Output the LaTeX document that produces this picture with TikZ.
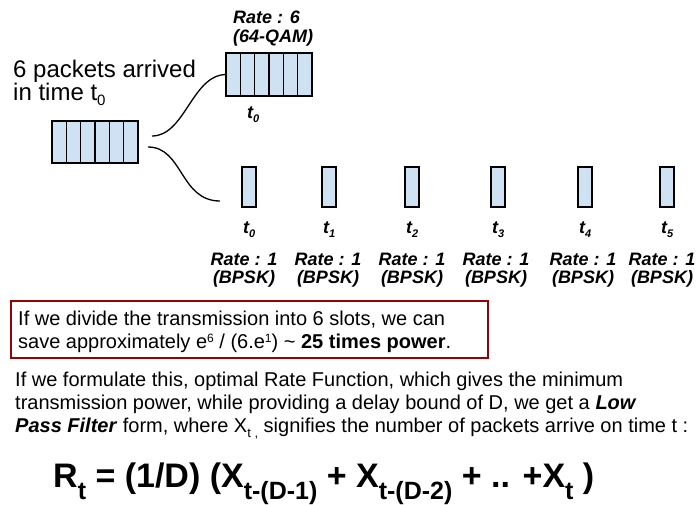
\documentclass[tikz,border=0pt]{standalone}
\usepackage{fontspec}
\usetikzlibrary{calc}
\setmainfont{Liberation Sans}
\definecolor{cellblue}{HTML}{CFE2F3}
\definecolor{boxred}{HTML}{990000}
\newcommand\lsub[1]{\raisebox{-4pt}{\fontsize{11}{11}\selectfont #1}}
\newcommand\fsub[1]{\raisebox{-12pt}{\fontsize{25}{25}\selectfont\bfseries #1}}
\newcommand\psub[1]{\raisebox{-5pt}{\fontsize{13}{13}\selectfont #1}}
\newcommand\psup[1]{\raisebox{6pt}{\fontsize{12}{12}\selectfont #1}}
\begin{document}
\begin{tikzpicture}[x=1pt,y=-1pt,
  pbox/.style={draw=black, line width=1.3pt, fill=cellblue, minimum width=86pt, minimum height=42pt, inner sep=0pt, outer sep=0pt},
  slot/.style={draw=black, line width=1.3pt, fill=cellblue, minimum width=14pt, minimum height=40pt, inner sep=0pt, outer sep=0pt},
  bi/.style={inner sep=0pt, font=\fontsize{18}{18}\selectfont\bfseries\itshape},
  big/.style={inner sep=0pt, anchor=base west, font=\fontsize{24}{24}\selectfont},
  para/.style={inner sep=0pt, anchor=base west, font=\fontsize{20}{20}\selectfont},
  curve/.style={line width=1.3pt},
  divider/.style={line width=1.3pt}
]
\useasboundingbox (0,0) rectangle (699,504);
% title text
\node[big] (t1) at (13,77) {6 packets arrived};
\node[big] (t2) at (13,100) {in time t\raisebox{-5pt}{\fontsize{15}{15}\selectfont 0}};
% left box
\node[pbox] (abox) at (95,142) {};
\foreach \i in {1,...,5} {
  \draw[divider] ($(abox.north west)!\i/6!(abox.north east)$) -- ($(abox.south west)!\i/6!(abox.south east)$);
}
% top box
\node[pbox, minimum height=43pt] (bbox) at (269,74.5) {};
\foreach \i in {1,...,5} {
  \draw[divider] ($(bbox.north west)!\i/6!(bbox.north east)$) -- ($(bbox.south west)!\i/6!(bbox.south east)$);
}
\node[bi, anchor=base west] (r6) at (233,23) {Rate : 6};
\node[bi, anchor=base west] (qam) at (233,42) {(64-QAM)};
\node[bi, anchor=base west] (tt0) at (247,118) {t\lsub{0}};
% slots
\foreach \x/\r/\k in {249/244/0, 329/328/1, 412/412/2, 498/496/3, 585/583/4, 667/662/5} {
  \node[slot] (s\k) at (\x,187) {};
  \node[bi, anchor=base west] (ts\k) at ({\x-6},233) {t\lsub{\k}};
  \node[bi, anchor=base] (rs\k) at (\r,265) {Rate : 1};
  \node[bi, anchor=base] (bs\k) at (\r,283) {(BPSK)};
}
% curves
\coordinate (c1) at (152,136);
\coordinate (c2) at (148,147);
\coordinate (c3) at (220,201);
\draw[curve] (c1) .. controls (185,136) and (192,75) .. (bbox.west);
\draw[curve] (c2) .. controls (183,147) and (180,201) .. (c3);
% red box
\node[draw=boxred, line width=2pt, minimum width=477pt, minimum height=57pt, anchor=north west, inner sep=0pt] (redbox) at (10,300) {};
\node[para] (rb1) at (18,325) {If we divide the transmission into 6 slots, we can};
\node[para] (rb2) at (18,348) {save approximately e\psup{6} / (6.e\psup{1}) \textasciitilde{} \textbf{25 times power}.};
% paragraph
\node[para] (p1) at (15,386) {If we formulate this, optimal Rate Function, which gives the minimum};
\node[para] (p2) at (15,409) {transmission power, while providing a delay bound of D, we get a \textbf{\textit{Low}}};
\node[para] (p3) at (15,432) {\textbf{\textit{Pass Filter}} form, where X\psub{t ,} signifies the number of packets arrive on time t :};
% formula
\node[inner sep=0pt, anchor=base west, font=\fontsize{34}{34}\selectfont\bfseries] (eq) at (53,487) {R\fsub{t} = (1/D) (X\fsub{t-(D-1)} + X\fsub{t-(D-2)} + .. +X\fsub{t} )};
\end{tikzpicture}
\end{document}
